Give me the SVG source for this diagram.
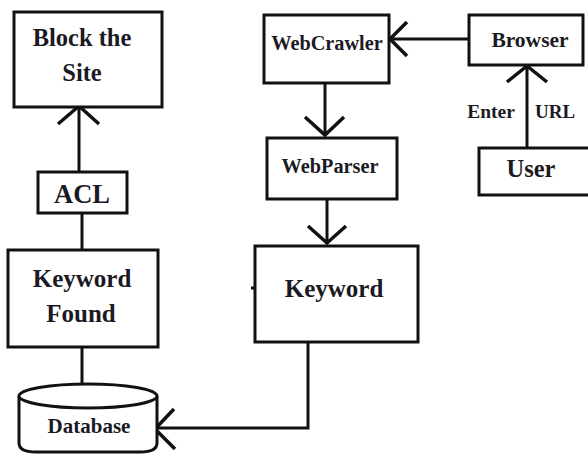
<svg xmlns="http://www.w3.org/2000/svg" width="588" height="455" viewBox="0 0 588 455">
  <style>
    .box { fill: #fff; stroke: #111; stroke-width: 3; }
    .wire { fill: none; stroke: #111; stroke-width: 3; }
    .head { fill: none; stroke: #111; stroke-width: 3.5; stroke-linejoin: miter; }
    .lbl { font-family: "Liberation Serif", "Times New Roman", serif; font-weight: bold; fill: #1b1a24; text-anchor: middle; }
  </style>
  <rect width="588" height="455" fill="#fff"/>

  <!-- connectors -->
  <g id="connectors">
    <!-- ACL -> Block the Site -->
    <line class="wire" x1="79" y1="172" x2="79" y2="108"/>
    <polyline class="head" points="58,124 79,106 99,124"/>
    <!-- Keyword Found -> ACL -->
    <line class="wire" x1="82" y1="213" x2="82" y2="250"/>
    <!-- Database -> Keyword Found -->
    <line class="wire" x1="82" y1="347" x2="82" y2="384"/>
    <!-- Browser -> WebCrawler -->
    <line class="wire" x1="469" y1="39" x2="391" y2="39"/>
    <polyline class="head" points="407,22 390,39 407,56"/>
    <!-- User -> Browser -->
    <line class="wire" x1="527" y1="148" x2="527" y2="67"/>
    <polyline class="head" points="507,82 527,66 547,82"/>
    <!-- WebCrawler -> WebParser -->
    <line class="wire" x1="325" y1="83" x2="325" y2="136"/>
    <polyline class="head" points="305,117 325,135 344,117"/>
    <!-- WebParser -> Keyword -->
    <line class="wire" x1="327" y1="199" x2="327" y2="244"/>
    <polyline class="head" points="308,226 327,243 346,226"/>
    <!-- Keyword -> Database -->
    <polyline class="wire" points="308,342 308,428 157,428"/>
    <polyline class="head" points="174,409 155,429 175,449"/>
    <!-- small stub on the Keyword box -->
    <line class="wire" x1="251" y1="288" x2="255" y2="288" stroke-width="2"/>
  </g>

  <g id="block-site">
    <rect class="box" x="14" y="12" width="148" height="95"/>
    <text class="lbl" x="82" y="46" font-size="24.5">Block the</text>
    <text class="lbl" x="82" y="81" font-size="24.5">Site</text>
  </g>

  <g id="acl">
    <rect class="box" x="38" y="172" width="89" height="41"/>
    <text class="lbl" x="82" y="203" font-size="26.5">ACL</text>
  </g>

  <g id="keyword-found">
    <rect class="box" x="8" y="250" width="150" height="97"/>
    <text class="lbl" x="82" y="287" font-size="25">Keyword</text>
    <text class="lbl" x="81" y="322" font-size="25">Found</text>
  </g>

  <g id="database">
    <path class="box" d="M19,396 L19,443 Q19,452 36,452 L140,452 Q157,452 157,443 L157,396"/>
    <ellipse class="box" cx="88" cy="396" rx="69" ry="12"/>
    <text class="lbl" x="89" y="433" font-size="21">Database</text>
  </g>

  <g id="webcrawler">
    <rect class="box" x="264" y="15" width="125" height="68"/>
    <text class="lbl" x="327" y="50" font-size="20.3">WebCrawler</text>
  </g>

  <g id="webparser">
    <rect class="box" x="267" y="138" width="130" height="61"/>
    <text class="lbl" x="330" y="173" font-size="20.3">WebParser</text>
  </g>

  <g id="keyword">
    <rect class="box" x="255" y="246" width="163" height="96"/>
    <text class="lbl" x="334" y="297" font-size="25">Keyword</text>
  </g>

  <g id="browser">
    <rect class="box" x="469" y="15" width="114" height="50"/>
    <text class="lbl" x="530" y="47" font-size="21.5">Browser</text>
  </g>

  <g id="user">
    <rect class="box" x="479" y="148" width="112" height="47"/>
    <text class="lbl" x="531" y="177" font-size="24.5">User</text>
  </g>

  <g id="url-label">
    <text class="lbl" x="491" y="118" font-size="19.5">Enter</text>
    <text class="lbl" x="555" y="118" font-size="19">URL</text>
  </g>
</svg>
